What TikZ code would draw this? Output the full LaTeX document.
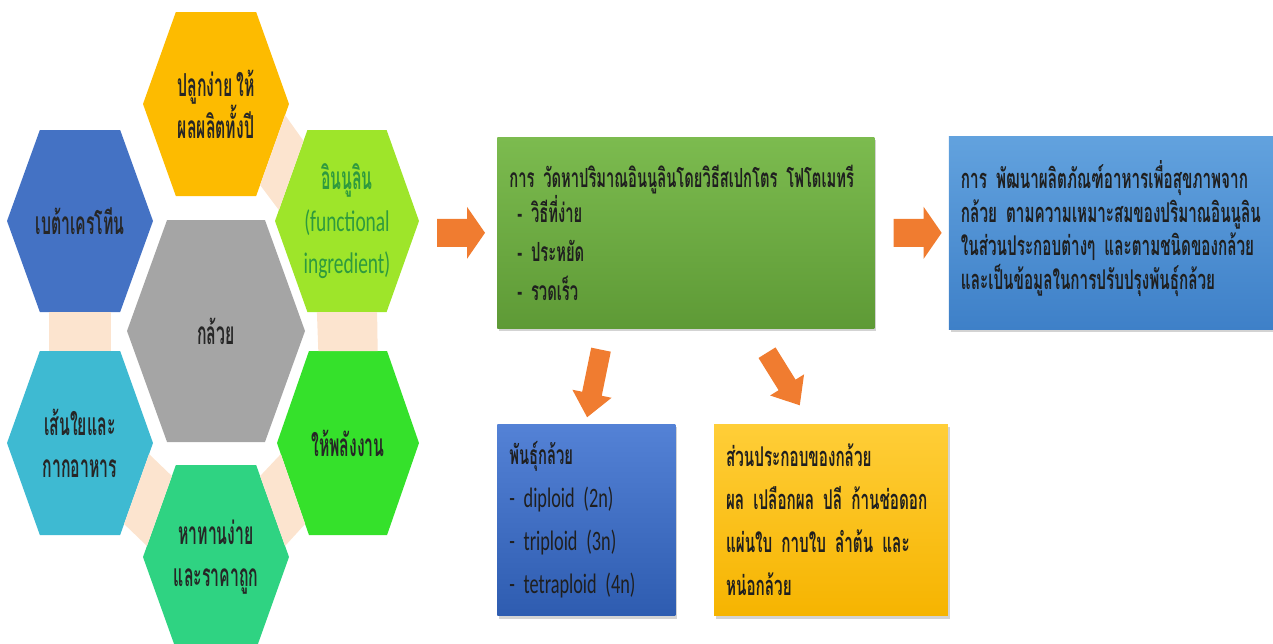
\documentclass[tikz,border=0pt]{standalone}
\usepackage{fontspec}
\setmainfont{Carlito}[FakeStretch=0.65]
\newfontfamily\thaihex{Loma}[Script=Thai, FakeStretch=0.5, WordSpace=0.7]
\newfontfamily\thaibox{Loma}[Script=Thai, FakeStretch=0.56, WordSpace=0.6]
\usetikzlibrary{positioning, calc, shadows, backgrounds}

\definecolor{hexgold}{HTML}{FDBB00}
\definecolor{hexblue}{HTML}{4472C4}
\definecolor{hexlime}{HTML}{9EE52A}
\definecolor{hexgrey}{HTML}{A5A5A5}
\definecolor{hexcyan}{HTML}{3EBAD2}
\definecolor{hexgreen}{HTML}{35E12B}
\definecolor{hexteal}{HTML}{2FD382}
\definecolor{peach}{HTML}{FCE4CF}
\definecolor{arrowfill}{HTML}{F07C30}
\definecolor{inulintext}{HTML}{2E9A3E}

\begin{document}
\begin{tikzpicture}[
        x = 0.02cm, y = -0.02cm,
        hextext/.style = {font = \thaihex\bfseries\fontsize{18}{24}\selectfont, text = black!85, align = center, inner sep = 0pt},
        infobox/.style = {rectangle, inner xsep = 0.24cm, inner ysep = 0pt, align = left, text = black!88,
                          font = \thaibox\bfseries\fontsize{15}{20}\selectfont,
                          drop shadow = {shadow xshift = 0.04cm, shadow yshift = -0.06cm, opacity = 0.35}},
        pics/bigarrow/.style = {code = {
            \fill[arrowfill] (0,-14) -- (30,-14) -- (30,-26) -- (48,0) -- (30,26) -- (30,14) -- (0,14) -- cycle;}},
        pics/slimarrow/.style = {code = {
            \fill[arrowfill] (0,-10) -- ({#1-24},-10) -- ({#1-24},-20) -- (#1,0) -- ({#1-24},20) -- ({#1-24},10) -- (0,10) -- cycle;}}
    ]

      \useasboundingbox (0,0) rectangle (1273,643);

      % hexagon cluster
      \node[hextext] (plant)  at (216,104) {ปลูกง่าย ให้\\ผลผลิตทั้งปี};
      \node[hextext] (beta)   at (80,221)  {เบต้าเครโทีน};
      \node[hextext, text = inulintext] (inulin) at (347,221)
            {อินนูลิน\\{\rmfamily\mdseries\fontsize{17}{24}\selectfont (functional}\\{\rmfamily\mdseries\fontsize{17}{24}\selectfont ingredient)}};
      \node[hextext] (banana) at (216,331) {กล้วย};
      \node[hextext] (fiber)  at (80,443)  {เส้นใยและ\\กากอาหาร};
      \node[hextext] (energy) at (348,443) {ให้พลังงาน};
      \node[hextext] (cheap)  at (216,557) {หาทานง่าย\\และราคาถูก};

      \begin{scope}[on background layer]
            \foreach \hex/\hw/\hh/\hcol in {plant/73/92/hexgold, beta/73/91/hexblue, inulin/72/91/hexlime,
                  banana/89/111/hexgrey, fiber/73/92/hexcyan, energy/71/92/hexgreen, cheap/73/92/hexteal} {
                  \coordinate (\hex-L)  at ($(\hex)+(-\hw,0)$);
                  \coordinate (\hex-TL) at ($(\hex)+(-0.55*\hw,-\hh)$);
                  \coordinate (\hex-TR) at ($(\hex)+(0.55*\hw,-\hh)$);
                  \coordinate (\hex-R)  at ($(\hex)+(\hw,0)$);
                  \coordinate (\hex-BR) at ($(\hex)+(0.55*\hw,\hh)$);
                  \coordinate (\hex-BL) at ($(\hex)+(-0.55*\hw,\hh)$);
                  \fill[\hcol] (\hex-L) -- (\hex-TL) -- (\hex-TR) -- (\hex-R) -- (\hex-BR) -- (\hex-BL) -- cycle;
            }
            \foreach \a/\b/\c/\d in {plant-R/plant-BR/inulin-TL/inulin-L, beta-BL/beta-BR/fiber-TL/fiber-TR,
                  inulin-BL/inulin-BR/energy-TL/energy-TR, fiber-R/fiber-BR/cheap-TL/cheap-L,
                  energy-L/energy-BL/cheap-TR/cheap-R}
                  \fill[peach] ($(\a)!0.12!(\b)$) -- ($(\c)!0.12!(\d)$) -- ($(\c)!0.88!(\d)$) -- ($(\a)!0.88!(\b)$) -- cycle;
      \end{scope}

      % boxes
      \node[infobox, minimum height = 3.82cm, text width = 7.06cm, anchor = north west,
            font = \thaibox\bfseries\fontsize{15}{21}\selectfont,
            top color = {rgb,255:red,124;green,187;blue,79}, bottom color = {rgb,255:red,94;green,154;blue,54}]
            (method) at (497,137)
            {การ วัดหาปริมาณอินนูลินโดยวิธีสเปกโตร โฟโตเมทรี\\[-1pt]
             \hspace*{0.16cm}- วิธีที่ง่าย\\[1pt]
             \hspace*{0.16cm}- ประหยัด\\[1pt]
             \hspace*{0.16cm}- รวดเร็ว};

      \node[infobox, right = 1.48cm of method, minimum height = 3.86cm, text width = 6.9cm,
            font = \thaibox\bfseries\fontsize{15.5}{19}\selectfont,
            top color = {rgb,255:red,98;green,162;blue,222}, bottom color = {rgb,255:red,62;green,128;blue,200}]
            (product)
            {การ พัฒนาผลิตภัณฑ์อาหารเพื่อสุขภาพจาก\\
             กล้วย ตามความเหมาะสมของปริมาณอินนูลิน\\
             ในส่วนประกอบต่างๆ และตามชนิดของกล้วย\\
             และเป็นข้อมูลในการปรับปรุงพันธุ์กล้วย\rule[-9pt]{0pt}{9pt}};

      \node[infobox, below = 1.9cm of method.south west, anchor = north west,
            minimum height = 3.84cm, text width = 3.08cm,
            font = \thaibox\bfseries\fontsize{15}{24.5}\selectfont,
            top color = {rgb,255:red,84;green,130;blue,214}, bottom color = {rgb,255:red,46;green,92;blue,176}]
            (cultivar)
            {พันธุ์กล้วย\\
             {\rmfamily\mdseries\fontsize{16}{24.5}\selectfont - diploid (2n)}\\
             {\rmfamily\mdseries\fontsize{16}{24.5}\selectfont - triploid (3n)}\\
             {\rmfamily\mdseries\fontsize{16}{24.5}\selectfont - tetraploid (4n)}};

      \node[infobox, right = 0.76cm of cultivar.north east, anchor = north west,
            minimum height = 3.84cm, text width = 4.2cm,
            font = \thaibox\bfseries\fontsize{15.5}{24.5}\selectfont,
            top color = {rgb,255:red,255;green,206;blue,56}, bottom color = {rgb,255:red,246;green,180;blue,0}]
            (parts)
            {ส่วนประกอบของกล้วย\\
             ผล เปลือกผล ปลี ก้านช่อดอก\\
             แผ่นใบ กาบใบ ลำต้น และ\\
             หน่อกล้วย};

      % orange arrows
      \coordinate (in1)   at ($(method.west)+(-60,0)$);
      \coordinate (in2)   at ($(method.east)+(19,0)$);
      \coordinate (down1) at ($(method.south west)+(104,21)$);
      \coordinate (down2) at ($(method.south west)+(270,24)$);

      \pic at (in1) {bigarrow};
      \pic at (in2) {bigarrow};
      \pic[rotate = -101.6] at (down1) {slimarrow = 69};
      \pic[rotate = -58.1] at (down2) {slimarrow = 62};

    \end{tikzpicture}
\end{document}
